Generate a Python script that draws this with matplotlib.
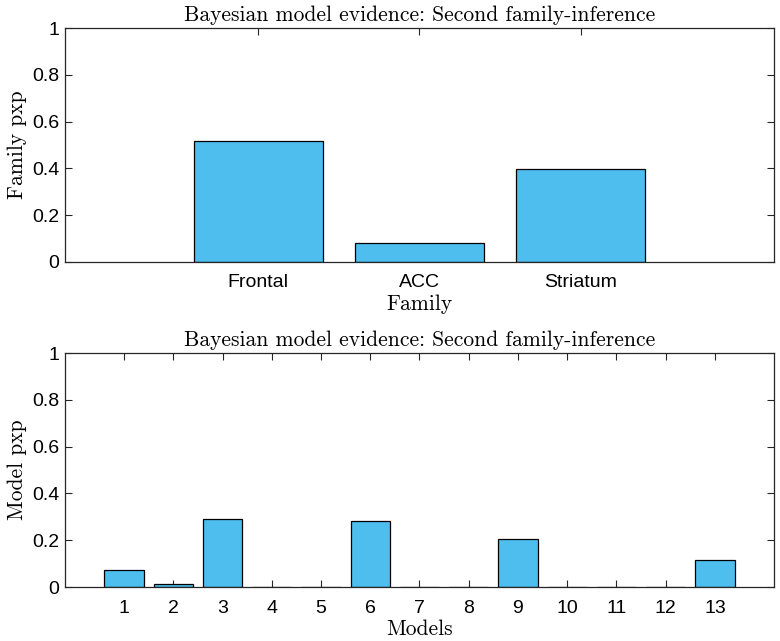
import matplotlib
matplotlib.use("Agg")
import matplotlib.pyplot as plt
import numpy as np

families = ["Frontal", "ACC", "Striatum"]
family_pxp = [0.518, 0.082, 0.397]

models = list(range(1, 14))
model_pxp = [0.073, 0.012, 0.292, 0.0, 0.0, 0.283, 0.0, 0.0, 0.205, 0.0, 0.0, 0.0, 0.117]

BAR = "#4DBEEE"
FRAME = "#262626"
SERIF = "cmr10"
SANS = "Liberation Sans"
TITLE = "Bayesian model evidence: Second family-inference"

fig = plt.figure(figsize=(7.8, 6.41), dpi=100)
ax1 = fig.add_axes([0.0833, 0.5913, 0.909, 0.365])
ax2 = fig.add_axes([0.0833, 0.0842, 0.909, 0.365])


def style(ax, n, ticklabels, xlabel, ylabel):
    ax.set_xlim(-0.2, n + 1.2)
    ax.set_ylim(0, 1)
    ax.set_xticks(np.arange(1, n + 1))
    ax.set_xticklabels(ticklabels, fontfamily=SANS, fontsize=14)
    ax.set_yticks([0, 0.2, 0.4, 0.6, 0.8, 1])
    ax.set_yticklabels(["0", "0.2", "0.4", "0.6", "0.8", "1"],
                       fontfamily=SANS, fontsize=14)
    ax.tick_params(direction="in", length=5, width=0.8, color=FRAME,
                   top=True, right=True, labelcolor="black")
    ax.tick_params(axis="x", pad=9)
    ax.tick_params(axis="y", pad=4)
    for s in ax.spines.values():
        s.set_color(FRAME)
        s.set_linewidth(0.9)
    ax.set_title(TITLE, fontfamily=SERIF, fontsize=15.5, pad=5)
    ax.set_xlabel(xlabel, fontfamily=SERIF, fontsize=15.5, labelpad=2)
    ax.set_ylabel(ylabel, fontfamily=SERIF, fontsize=15.5, labelpad=4)


ax1.bar(np.arange(1, len(families) + 1), family_pxp, width=0.8,
        color=BAR, edgecolor="black", linewidth=0.9, zorder=2)
style(ax1, len(families), families, "Family", "Family pxp")

ax2.bar(models, model_pxp, width=0.8, color=BAR, edgecolor="black",
        linewidth=0.9, zorder=2)
style(ax2, len(models), [str(m) for m in models], "Models", "Model pxp")

fig.savefig("out.png", dpi=100, facecolor="white")
